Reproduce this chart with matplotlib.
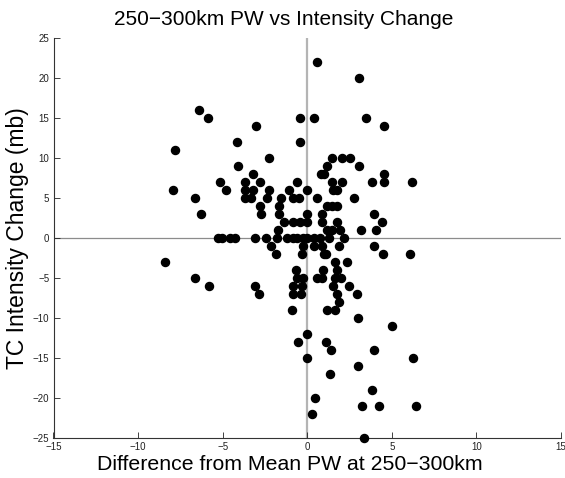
import numpy as np
import matplotlib
matplotlib.use('Agg')
import matplotlib.pyplot as plt

plt.rcParams['font.family'] = ['Liberation Sans', 'DejaVu Sans']

# difference from mean PW (x) grouped by intensity change (y, mb)
pw_diff = [
	0.56,
	3.03,
	-6.39,
	-5.85, -0.43, 0.40, 3.46,
	-3.02, 4.51,
	-4.17, -0.43,
	-7.79,
	-2.25, 1.45, 2.04, 2.53,
	-4.07, 1.19, 3.07,
	-3.22, 0.81, 0.97, 4.51,
	-5.14, -3.70, -2.81, -0.63, 1.45, 2.04, 3.84, 4.51, 6.20,
	-7.95, -4.78, -3.66, -3.18, -2.25, -1.10, 0.0, 1.51, 1.74,
	-6.65, -3.66, -3.30, -2.37, -1.56, -0.87, -0.49, 0.59, 2.79,
	-2.77, -1.68, 1.15, 1.45, 1.78,
	-6.27, -2.75, -1.68, -0.04, 0.85, 3.92,
	-1.37, -0.87, -0.43, 0.0, 0.89, 1.78, 4.39,
	-1.72, 1.19, 1.48, 1.94, 3.19, 4.06,
	-5.28, -5.02, -4.55, -4.27, -3.10, -2.45, -1.80, -1.17, -0.85, -0.59,
	-0.25, -0.02, 0.40, 0.73, 1.31, 2.20,
	-2.15, -0.24, 0.38, 0.85, 1.90, 3.96,
	-1.86, -0.31, 0.99, 1.11, 4.45, 6.05,
	-8.39, 1.63, 2.37,
	-0.67, 0.95, 1.78,
	-6.62, -0.59, -0.27, 0.59, 0.85, 1.64, 1.98,
	-5.79, -3.10, -0.83, -0.33, 1.51, 2.49,
	-2.87, -0.83, -0.37, 1.78, 2.97,
	1.90,
	-0.93, 1.15, 1.64,
	2.99,
	5.03,
	0.0,
	-0.53, 1.11,
	1.41, 3.92,
	0.0, 6.23,
	2.99,
	1.35,
	3.82,
	0.47,
	3.23, 4.27, 6.41,
	0.29,
	3.36,
]

intensity_change = (
	[22] * 1 + [20] * 1 + [16] * 1 + [15] * 4 + [14] * 2 + [12] * 2 + [11] * 1
	+ [10] * 4 + [9] * 3 + [8] * 4 + [7] * 9 + [6] * 9 + [5] * 9 + [4] * 5
	+ [3] * 6 + [2] * 7 + [1] * 6 + [0] * 16 + [-1] * 6 + [-2] * 6 + [-3] * 3
	+ [-4] * 3 + [-5] * 7 + [-6] * 6 + [-7] * 5 + [-8] * 1 + [-9] * 3
	+ [-10] * 1 + [-11] * 1 + [-12] * 1 + [-13] * 2 + [-14] * 2 + [-15] * 2
	+ [-16] * 1 + [-17] * 1 + [-19] * 1 + [-20] * 1 + [-21] * 3 + [-22] * 1
	+ [-25] * 1
)

x_ticks = [-15, -10, -5, 0, 5, 10, 15]
y_ticks = [-25, -20, -15, -10, -5, 0, 5, 10, 15, 20, 25]


def main():
	'''draw the scatter'''

	fig = plt.figure(figsize=(5.65, 4.78), dpi=100)
	ax = fig.add_axes([53.5 / 565, 40 / 478, 507.5 / 565, 400.5 / 478])

	ax.axvline(0, color='#b4b4b4', linewidth=1.6, zorder=1)
	ax.axhline(0, color='#8c8c8c', linewidth=0.9, zorder=1)

	ax.plot(pw_diff, intensity_change, linestyle='none', marker='o',
			markersize=5.8, color='black', clip_on=False, zorder=3)

	ax.set_xlim(-15, 15)
	ax.set_ylim(-25, 25)
	ax.set_xticks(x_ticks)
	ax.set_yticks(y_ticks)
	ax.set_xticklabels([str(t).replace('-', '\u2212') for t in x_ticks])
	ax.set_yticklabels([str(t).replace('-', '\u2212') for t in y_ticks])
	ax.tick_params(direction='in', length=4, width=0.6, labelsize=7,
				   colors='#222222', pad=2)
	ax.tick_params(axis='x', pad=3)
	ax.tick_params(axis='y', pad=3)

	for side in ['top', 'right']:
		ax.spines[side].set_visible(False)
	for side in ['left', 'bottom']:
		ax.spines[side].set_linewidth(0.8)
		ax.spines[side].set_color('#333333')

	ax.set_title('250\u2212300km PW vs Intensity Change', fontsize=15, pad=9, x=0.454)
	ax.set_xlabel('Difference from Mean PW at 250\u2212300km', fontsize=15.3, labelpad=2)
	ax.xaxis.label.set_x(0.466)
	ax.set_ylabel('TC Intensity Change (mb)', fontsize=16.5, labelpad=3)

	fig.savefig('out.png', dpi=100)


if __name__ == '__main__':
	main()
